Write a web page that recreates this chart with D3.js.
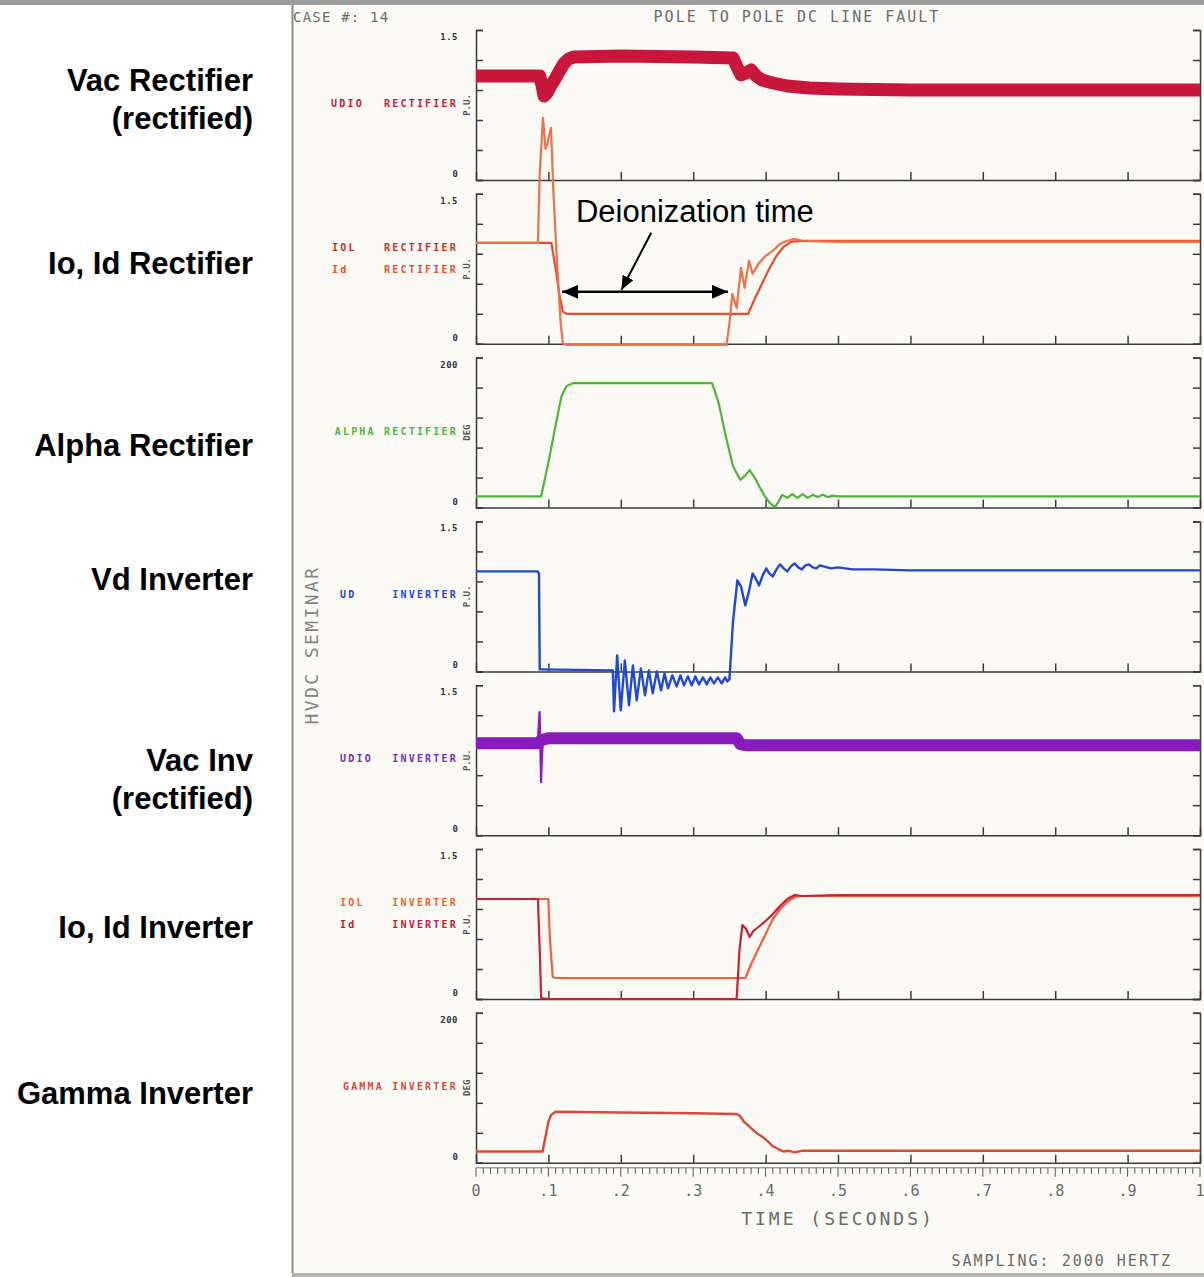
<!DOCTYPE html>
<html>
<head>
<meta charset="utf-8">
<style>
  body { margin: 0; background: #fff; }
  svg { display: block; }
  .side { font: bold 31px "Liberation Sans", Arial, sans-serif; fill: #000; }
  .note { font: 31px "Liberation Sans", Arial, sans-serif; fill: #000; }
  .mono { font-family: "DejaVu Sans Mono", monospace; }
  .axis path, .axis line { stroke: #3a3a3a; stroke-width: 1.5; fill: none; }
  .axis text { display: none; }
  .trace { fill: none; stroke-linejoin: round; stroke-linecap: butt; }
</style>
</head>
<body>
<svg width="1204" height="1277"></svg>
<script src="https://d3js.org/d3.v7.min.js"></script>
<script>

// ---- data (time in seconds, value in p.u. or degrees) ----
var xTicks = [0, 0.1, 0.2, 0.3, 0.4, 0.5, 0.6, 0.7, 0.8, 0.9, 1]
var xTickLabels = ["0", ".1", ".2", ".3", ".4", ".5", ".6", ".7", ".8", ".9", "1"]

var panelNames = [["Vac Rectifier", "(rectified)"], ["Io, Id Rectifier"], ["Alpha Rectifier"],
  ["Vd Inverter"], ["Vac Inv", "(rectified)"], ["Io, Id Inverter"], ["Gamma Inverter"]]
var panelMax = [1.5, 1.5, 200, 1.5, 1.5, 1.5, 200]
var panelTopLabel = ["1.5", "1.5", "200", "1.5", "1.5", "1.5", "200"]
var panelUnits = ["P.U.", "P.U.", "DEG", "P.U.", "P.U.", "P.U.", "DEG"]

var vacRectifier = [[0,1.04],[0.088,1.04],[0.091,0.95],[0.094,0.84],[0.098,0.87],[0.104,0.95],[0.11,1.02],
  [0.116,1.1],[0.122,1.17],[0.128,1.21],[0.135,1.23],[0.2,1.24],[0.3,1.23],[0.355,1.22],[0.36,1.14],
  [0.366,1.05],[0.373,1.07],[0.38,1.1],[0.387,1.04],[0.395,1.0],[0.41,0.97],[0.43,0.94],[0.46,0.92],
  [0.5,0.91],[0.6,0.9],[1,0.9]]

var iolRectifier = [[0,1.01],[0.104,1.01],[0.11,0.75],[0.115,0.5],[0.12,0.32],[0.125,0.3],[0.376,0.3],
  [0.385,0.45],[0.395,0.6],[0.405,0.75],[0.415,0.88],[0.425,0.97],[0.435,1.02],[0.45,1.03],[1,1.03]]

var idRectifier = [[0,1.01],[0.0855,1.01],[0.088,1.7],[0.0925,2.26],[0.096,1.95],[0.0985,2.0],[0.1035,2.16],
  [0.107,1.5],[0.112,0.8],[0.117,0.2],[0.12,0.0],[0.125,-0.01],[0.346,-0.01],[0.35,0.2],[0.354,0.5],
  [0.36,0.36],[0.366,0.76],[0.371,0.56],[0.377,0.83],[0.382,0.7],[0.39,0.8],[0.4,0.88],[0.41,0.93],
  [0.42,1.0],[0.43,1.03],[0.44,1.05],[0.45,1.03],[0.5,1.02],[1,1.02]]

var alphaRectifier = [[0,15],[0.09,15],[0.1,60],[0.11,110],[0.118,148],[0.125,162],[0.135,166],[0.326,166],
  [0.335,140],[0.345,95],[0.355,55],[0.365,37],[0.371,42],[0.378,50],[0.385,40],[0.392,27],[0.399,15],
  [0.406,6],[0.413,1],[0.418,8],[0.423,17],[0.43,13],[0.437,18],[0.444,13],[0.451,18],[0.458,13],
  [0.465,17],[0.472,14],[0.479,17],[0.486,14],[0.493,16],[0.5,15],[1,15]]

var vdInverter = [[0,1.0],[0.085,1.0],[0.087,0.98],[0.088,0.02],[0.09,0.02],[0.189,0.01],
  [0.1906,-0.40],[0.195,0.16],[0.1999,-0.39],[0.2056,0.11],[0.2113,-0.34],[0.2167,0.06],[0.222,-0.29],
  [0.2277,0.03],[0.2334,-0.24],[0.2388,0.01],[0.2441,-0.22],[0.2498,0.0],[0.2555,-0.19],[0.2604,-0.02],
  [0.2652,-0.17],[0.2712,-0.04],[0.2772,-0.15],[0.2823,-0.04],[0.2873,-0.14],[0.2926,-0.05],
  [0.2979,-0.14],[0.303,-0.05],[0.308,-0.13],[0.3134,-0.06],[0.3187,-0.13],[0.3237,-0.06],
  [0.3287,-0.12],[0.334,-0.06],[0.3394,-0.12],[0.344,-0.06],[0.347,-0.1],[0.35,-0.08],[0.355,0.5],
  [0.361,0.91],[0.366,0.85],[0.372,0.66],[0.377,0.8],[0.382,0.98],[0.387,0.92],[0.391,0.86],[0.396,0.96],
  [0.401,1.03],[0.405,0.98],[0.41,0.95],[0.415,1.02],[0.42,1.07],[0.425,1.03],[0.43,1.0],[0.435,1.05],
  [0.44,1.08],[0.445,1.04],[0.45,1.02],[0.455,1.06],[0.46,1.07],[0.465,1.04],[0.47,1.03],[0.475,1.06],
  [0.48,1.05],[0.49,1.03],[0.5,1.04],[0.52,1.02],[0.55,1.02],[0.6,1.01],[1,1.01]]

var vacInverter = [[0,0.92],[0.086,0.92],[0.09,0.95],[0.1,0.97],[0.36,0.97],[0.365,0.91],[0.372,0.9],[1,0.9]]
var vacInverterSpike = [[0.085,0.92],[0.0868,1.1],[0.0878,1.23],[0.0888,0.95],[0.0898,0.53],[0.0912,0.8],
  [0.0925,0.95]]

var iolInverter = [[0,1.0],[0.1,1.0],[0.102,0.6],[0.106,0.22],[0.11,0.21],[0.372,0.21],[0.38,0.35],
  [0.39,0.5],[0.4,0.65],[0.41,0.8],[0.42,0.9],[0.43,0.97],[0.44,1.02],[0.45,1.03],[1,1.03]]

var idInverter = [[0,1.0],[0.0855,1.0],[0.088,0.5],[0.09,0.01],[0.1,0.0],[0.36,0.0],[0.364,0.5],
  [0.368,0.74],[0.373,0.7],[0.378,0.62],[0.383,0.68],[0.39,0.72],[0.4,0.78],[0.41,0.85],[0.42,0.93],
  [0.43,1.0],[0.44,1.04],[0.45,1.03],[0.5,1.04],[1,1.04]]

var gammaInverter = [[0,15],[0.092,15],[0.096,35],[0.1,55],[0.104,64],[0.11,68],[0.2,67],[0.3,66],
  [0.36,65],[0.365,62],[0.37,55],[0.378,48],[0.385,42],[0.39,38],[0.398,33],[0.405,27],[0.41,22],
  [0.418,18],[0.425,15],[0.432,16],[0.44,14],[0.45,16],[0.5,16],[1,16]]

// panel index, series, colour, label (left part, right part)
var traces = [
  {panel: 0, data: vacRectifier, color: "#c8173c", width: 13, label: ["UDIO", "RECTIFIER"]},
  {panel: 1, data: iolRectifier, color: "#e0502e", width: 2.2, label: ["IOL", "RECTIFIER"], labelColor: "#c8321e"},
  {panel: 1, data: idRectifier, color: "#f07048", width: 2.2, label: ["Id", "RECTIFIER"], labelColor: "#e8502a"},
  {panel: 2, data: alphaRectifier, color: "#4cb63a", width: 2.2, label: ["", "ALPHA RECTIFIER"]},
  {panel: 3, data: vdInverter, color: "#2048d6", width: 2.4, label: ["UD", "INVERTER"]},
  {panel: 4, data: vacInverter, color: "#8a1cbf", width: 12, label: ["UDIO", "INVERTER"], labelColor: "#7a2ab8"},
  {panel: 4, data: vacInverterSpike, color: "#8a1cbf", width: 2.2},
  {panel: 5, data: iolInverter, color: "#f0603a", width: 2.2, label: ["IOL", "INVERTER"], labelColor: "#ec6428"},
  {panel: 5, data: idInverter, color: "#cc2030", width: 2.2, label: ["Id", "INVERTER"], labelColor: "#c0203a"},
  {panel: 6, data: gammaInverter, color: "#d84a36", width: 2.4, label: ["", "GAMMA INVERTER"]}
]

var deionization = [0.119, 0.348]

// ---- layout ----
var svg = d3.select("svg"),
    W = +svg.attr("width"),
    H = +svg.attr("height")

var panelH = 150
var x = d3.scaleLinear().domain([0, 1]).range([476, 1200])
var baseY = d3.scaleLinear().domain([0, 6]).range([180, 1162.8])
var sideShift = [-6, -6, 12, -17, 19, 3, 5]
var labelLeftX = [331, 332, 0, 340, 340, 340, 0]

// paper
svg.append("rect").attr("width", W).attr("height", H).attr("fill", "#fff")
svg.append("rect").attr("x", 292).attr("y", 5).attr("width", W - 292).attr("height", 1268).attr("fill", "#fbfaf5")
svg.append("rect").attr("width", W).attr("height", 5).attr("fill", "#9d9d9d")
svg.append("rect").attr("x", 292).attr("y", 1273).attr("width", W - 292).attr("height", 4).attr("fill", "#b4b4ae")
svg.append("line").attr("x1", 292.5).attr("x2", 292.5).attr("y1", 5).attr("y2", 1273)
  .attr("stroke", "#8d8d84").attr("stroke-width", 2)

// header text
svg.append("text").attr("class", "mono").attr("x", 293).attr("y", 22)
  .attr("font-size", 14).attr("letter-spacing", 1.2).attr("fill", "#6c6c6c").text("CASE #: 14")
svg.append("text").attr("class", "mono").attr("x", 797).attr("y", 22).attr("text-anchor", "middle")
  .attr("font-size", 15).attr("letter-spacing", 2).attr("fill", "#6c6c6c").text("POLE TO POLE DC LINE FAULT")
svg.append("text").attr("class", "mono")
  .attr("transform", "translate(318,645) rotate(-90)").attr("text-anchor", "middle")
  .attr("font-size", 18).attr("letter-spacing", 2.4).attr("fill", "#858585").text("HVDC SEMINAR")

var panelY = []

panelNames.forEach(function(names, i) {
  var base = baseY(i), top = base - panelH, mid = base - panelH / 2
  var y = d3.scaleLinear().domain([0, panelMax[i]]).range([base, top])
  panelY.push(y)
  var tv = d3.range(6).map(function(k) { return k * panelMax[i] / 5 })

  var g = svg.append("g")
  g.append("g").attr("class", "axis").attr("transform", "translate(" + x(0) + ",0)")
    .call(d3.axisRight(y).tickValues(tv).tickSize(7).tickSizeOuter(7).tickFormat(""))
  g.append("g").attr("class", "axis").attr("transform", "translate(" + x(1) + ",0)")
    .call(d3.axisLeft(y).tickValues(tv).tickSize(7).tickSizeOuter(7).tickFormat(""))
  g.append("g").attr("class", "axis").attr("transform", "translate(0," + base + ")")
    .call(d3.axisTop(x).tickValues(xTicks).tickSize(8).tickSizeOuter(0).tickFormat(""))

  // y tick labels
  g.append("text").attr("class", "mono").attr("x", 458).attr("y", top + 10).attr("text-anchor", "end")
    .attr("font-size", 9).attr("font-weight", "bold").attr("letter-spacing", 0.5).attr("fill", "#333")
    .text(panelTopLabel[i])
  g.append("text").attr("class", "mono").attr("x", 458).attr("y", base - 3).attr("text-anchor", "end")
    .attr("font-size", 9).attr("font-weight", "bold").attr("fill", "#333").text("0")
  g.append("text").attr("class", "mono")
    .attr("transform", "translate(470," + mid + ") rotate(-90)").attr("text-anchor", "middle")
    .attr("font-size", 9).attr("font-weight", "bold").attr("fill", "#555").text(panelUnits[i])

  // slide labels on the left
  var lines = names.length
  var t = g.append("text").attr("class", "side").attr("text-anchor", "end")
  names.forEach(function(s, k) {
    t.append("tspan").attr("x", 253)
      .attr("y", mid + sideShift[i] + 11 + (k - (lines - 1) / 2) * 38).text(s)
  })
})

// traces
var labelled = traces.filter(function(d) { return d.label })
var traceCount = d3.rollup(labelled, function(v) { return v.length }, function(d) { return d.panel })
var seen = {}
traces.forEach(function(tr) {
  var y = panelY[tr.panel]
  var line = d3.line().x(function(d) { return x(d[0]) }).y(function(d) { return y(d[1]) })
  svg.append("path").attr("class", "trace").attr("d", line(tr.data))
    .attr("stroke", tr.color).attr("stroke-width", tr.width)

  if (!tr.label) return
  var k = seen[tr.panel] || 0
  seen[tr.panel] = k + 1
  var n = traceCount.get(tr.panel)
  var mid = baseY(tr.panel) - panelH / 2
  var ly = mid + 4 - (n - 1 - k) * 22 - (n > 1 ? 0 : 2)
  var lc = tr.labelColor || tr.color
  if (tr.label[0]) {
    svg.append("text").attr("class", "mono").attr("x", labelLeftX[tr.panel]).attr("y", ly)
      .attr("font-size", 10).attr("font-weight", "bold").attr("letter-spacing", 2.2)
      .attr("fill", lc).text(tr.label[0])
  }
  svg.append("text").attr("class", "mono").attr("x", 458).attr("y", ly).attr("text-anchor", "end")
    .attr("font-size", 10).attr("font-weight", "bold").attr("letter-spacing", 2.2)
    .attr("fill", lc).text(tr.label[1])
})

// ruler under last panel
var lastBase = baseY(6)
svg.append("line").attr("x1", x(0)).attr("x2", x(1)).attr("y1", lastBase + 5).attr("y2", lastBase + 5)
  .attr("stroke", "#777").attr("stroke-width", 1)
svg.append("g").selectAll("line").data(d3.range(0, 101)).join("line")
  .attr("x1", function(d) { return x(d / 100) }).attr("x2", function(d) { return x(d / 100) })
  .attr("y1", lastBase + 5).attr("y2", function(d) { return lastBase + (d % 10 === 0 ? 14 : 11) })
  .attr("stroke", "#555").attr("stroke-width", 1)

// x labels
svg.append("g").selectAll("text").data(xTicks).join("text")
  .attr("class", "mono").attr("x", function(d) { return x(d) }).attr("y", 1196)
  .attr("text-anchor", "middle").attr("font-size", 15).attr("fill", "#6a6a6a")
  .text(function(d, i) { return xTickLabels[i] })
svg.append("text").attr("class", "mono").attr("x", 838).attr("y", 1225).attr("text-anchor", "middle")
  .attr("font-size", 18).attr("letter-spacing", 3).attr("fill", "#6a6a6a").text("TIME (SECONDS)")
svg.append("text").attr("class", "mono").attr("x", 1172).attr("y", 1266).attr("text-anchor", "end")
  .attr("font-size", 15).attr("letter-spacing", 2).attr("fill", "#6a6a6a").text("SAMPLING: 2000 HERTZ")

// deionization annotation
var defs = svg.append("defs")
defs.append("marker").attr("id", "head").attr("viewBox", "0 0 16 14").attr("refX", 16).attr("refY", 7)
  .attr("markerWidth", 16).attr("markerHeight", 14).attr("markerUnits", "userSpaceOnUse")
  .attr("orient", "auto-start-reverse")
  .append("path").attr("d", "M0,0L16,7L0,14Z").attr("fill", "#000")
defs.append("marker").attr("id", "head2").attr("viewBox", "0 0 14 12").attr("refX", 14).attr("refY", 6)
  .attr("markerWidth", 14).attr("markerHeight", 12).attr("markerUnits", "userSpaceOnUse")
  .attr("orient", "auto")
  .append("path").attr("d", "M0,0L14,6L0,12Z").attr("fill", "#000")

var y2 = panelY[1]
svg.append("line").attr("x1", x(deionization[0])).attr("x2", x(deionization[1]))
  .attr("y1", y2(0.52)).attr("y2", y2(0.52)).attr("stroke", "#000").attr("stroke-width", 2.5)
  .attr("marker-start", "url(#head)").attr("marker-end", "url(#head)")
svg.append("line").attr("x1", x(0.242)).attr("y1", y2(1.11)).attr("x2", x(0.201)).attr("y2", y2(0.54))
  .attr("stroke", "#000").attr("stroke-width", 2).attr("marker-end", "url(#head2)")
svg.append("text").attr("class", "note").attr("x", x(0.138)).attr("y", 222).text("Deionization time")

</script>
</body>
</html>
